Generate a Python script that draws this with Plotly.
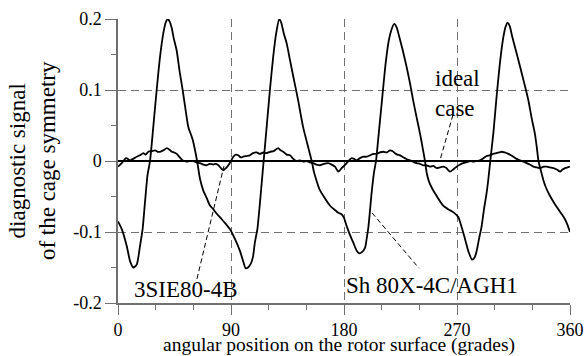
import plotly.graph_objects as go

# Sh 80X-4C/AGH1 motor (large-amplitude diagnostic signal)
sh_x = [0, 3, 7, 9.6, 12.2, 14.9, 17.5, 19.6, 21.5, 23.5, 25.5, 28.1, 30.8, 33.5, 36.1, 38, 39.6, 41, 42.7, 44.5,
        46.7, 49, 51.5, 54, 56, 59.5, 63, 65.3, 68, 70.6, 73, 75.9, 79, 82.6, 86, 89.2, 93.2, 97.2, 100, 101.7,
        103.5, 105.7, 107.5, 109, 111, 113, 114.5, 116, 118.5, 121, 123.5, 126, 128.4, 130, 132, 134.3, 137, 139.6,
        143.4, 147.4, 151.4, 154.3, 156, 158, 160.5, 163.5, 168.9, 172, 175.5, 178, 180, 182, 184.5, 187.4, 190,
        192, 194.5, 196.8, 198, 199.5, 202, 204, 205.5, 208, 210.5, 213, 215.5, 218, 220, 222, 224, 226.5, 229.8,
        232.5, 235, 238, 240.5, 242.5, 244.5, 246, 247.5, 250, 253.7, 259, 263, 267, 271, 273, 275, 277, 279, 282,
        284, 285.6, 287.5, 289.6, 291.5, 293.6, 295, 296.5, 299, 301.5, 304, 306.5, 308.5, 310.2, 312, 314, 317,
        320.2, 323.5, 326.8, 329.5, 332, 333.5, 334.9, 337, 338.8, 341, 344, 347, 350.7, 353.5, 356, 358, 360]
sh_y = [-0.085, -0.096, -0.12, -0.141, -0.150, -0.146, -0.12, -0.096, -0.058, -0.02, 0.0, 0.048, 0.10, 0.147, 0.18,
        0.195, 0.200, 0.197, 0.188, 0.172, 0.156, 0.127, 0.10, 0.07, 0.048, 0.03, 0.0, -0.025, -0.042, -0.052, -0.062,
        -0.068, -0.075, -0.082, -0.089, -0.096, -0.11, -0.127, -0.143, -0.151, -0.150, -0.145, -0.135, -0.115, -0.096,
        -0.06, -0.03, 0.0, 0.05, 0.10, 0.145, 0.18, 0.200, 0.195, 0.18, 0.166, 0.142, 0.119, 0.086, 0.048, 0.02, 0.0,
        -0.015, -0.027, -0.040, -0.049, -0.063, -0.068, -0.073, -0.075, -0.08, -0.091, -0.103, -0.115, -0.126, -0.130,
        -0.128, -0.122, -0.11, -0.092, -0.045, -0.015, 0.0, 0.045, 0.09, 0.135, 0.168, 0.186, 0.193, 0.188, 0.175,
        0.158, 0.133, 0.11, 0.086, 0.06, 0.039, 0.02, 0.0, -0.018, -0.028, -0.038, -0.049, -0.063, -0.068, -0.072,
        -0.079, -0.089, -0.101, -0.114, -0.127, -0.139, -0.136, -0.127, -0.11, -0.092, -0.068, -0.045, -0.025, 0.0,
        0.04, 0.09, 0.135, 0.17, 0.188, 0.195, 0.19, 0.175, 0.155, 0.133, 0.11, 0.086, 0.06, 0.039, 0.02, 0.0,
        -0.015, -0.027, -0.038, -0.049, -0.058, -0.068, -0.075, -0.082, -0.09, -0.10]

# 3SIE80-4B motor (small-amplitude diagnostic signal)
sie_x = [0, 3, 6.4, 9.6, 12, 14.9, 17.5, 20.2, 22, 24.2, 27, 29.5, 31.5, 33.5, 36, 38.9, 41, 42.9, 44.8, 46.8, 48.8,
         50.8, 52.7, 54.7, 57, 60, 62.5, 65.3, 68, 70.6, 73, 75.9, 78, 79.9, 82, 83.9, 86, 87.9, 90, 91.8, 93.8, 95.8,
         97.8, 99.8, 102.5, 105, 107.5, 110.4, 113, 115.7, 118, 121, 124, 127.6, 129.5, 131.6, 134.3, 137, 139.6,
         142.3, 145, 147.5, 150.2, 153, 155.5, 158, 160.9, 164, 167.5, 170, 172.8, 175.5, 178.1, 180, 182.1, 184,
         186.1, 188, 190.1, 192.7, 195.4, 198, 200.7, 203.5, 206, 208.5, 211.3, 214, 216.6, 218.5, 220.6, 222.5,
         224.6, 226.5, 228.5, 230.5, 232.5, 235, 237.8, 240.5, 243.1, 245.8, 248.5, 251, 253.8, 256.5, 259, 261.5,
         264.4, 267, 269.7, 272.5, 275, 277, 279, 281, 283, 285.5, 288.3, 291, 293.6, 296, 298.9, 301.5, 303.5,
         305.6, 308, 310.9, 313, 314.9, 317.5, 320.2, 323, 325.5, 328, 330.8, 333.5, 336.2, 339, 341.5, 344, 346.8,
         349.5, 352.1, 354, 356.1, 358, 360]
sie_y = [-0.008, -0.003, 0.004, 0.001, 0.003, 0.006, 0.008, 0.011, 0.009, 0.013, 0.014, 0.015, 0.013, 0.013, 0.015,
         0.018, 0.016, 0.013, 0.012, 0.01, 0.006, 0.002, 0.0, -0.001, 0.0, 0.0, -0.002, -0.003, -0.005, -0.006,
         -0.004, -0.005, -0.004, -0.006, -0.01, -0.013, -0.01, -0.006, 0.0, 0.006, 0.009, 0.008, 0.005, 0.006, 0.007,
         0.008, 0.011, 0.012, 0.01, 0.012, 0.011, 0.013, 0.014, 0.018, 0.015, 0.013, 0.009, 0.008, 0.003, 0.0, 0.001,
         -0.001, 0.0, -0.002, -0.003, -0.005, -0.006, -0.004, -0.003, -0.005, -0.008, -0.015, -0.01, -0.007, -0.003,
         0.001, 0.004, 0.003, 0.001, 0.004, 0.006, 0.006, 0.008, 0.01, 0.01, 0.012, 0.013, 0.012, 0.015, 0.014, 0.011,
         0.009, 0.008, 0.006, 0.004, 0.002, 0.001, -0.001, -0.003, -0.004, -0.006, -0.006, -0.008, -0.007, -0.01,
         -0.009, -0.008, -0.01, -0.015, -0.012, -0.008, -0.005, -0.003, -0.002, -0.001, 0.0, -0.001, 0.0, 0.001,
         0.004, 0.007, 0.008, 0.01, 0.011, 0.012, 0.013, 0.012, 0.01, 0.008, 0.006, 0.003, 0.001, -0.001, -0.003,
         -0.005, -0.008, -0.009, -0.01, -0.008, -0.008, -0.009, -0.01, -0.012, -0.015, -0.012, -0.01, -0.009, -0.008]

# ideal case: perfectly symmetric cage
ideal_x = [0, 360]
ideal_y = [0, 0]

x_ticks = [0, 90, 180, 270, 360]
x_ticktext = ["0", "90", "180", "270", "360"]
y_ticks = [-0.2, -0.1, 0, 0.1, 0.2]
y_ticktext = ["-0.2", "-0.1", "0", "0.1", "0.2"]

FONT = "Liberation Serif, Times New Roman, serif"
AX = "#707070"
GRID = "#707070"

fig = go.Figure()
fig.add_trace(go.Scatter(x=ideal_x, y=ideal_y, mode="lines", line=dict(color="black", width=2),
                         name="ideal case", hoverinfo="skip"))
fig.add_trace(go.Scatter(x=sie_x, y=sie_y, mode="lines", line=dict(color="black", width=1.8, shape="spline", smoothing=0.6),
                         name="3SIE80-4B"))
fig.add_trace(go.Scatter(x=sh_x, y=sh_y, mode="lines", line=dict(color="black", width=1.8, shape="spline", smoothing=0.6),
                         name="Sh 80X-4C/AGH1"))

# dashed pointer lines for the labels (data coordinates)
pointers = [
    ((266.8, 0.065), (256.5, 0.0014)),
    ((62.9, -0.166), (84.4, -0.007)),
    ((202.3, -0.073), (239.7, -0.151)),
]
for (x0, y0), (x1, y1) in pointers:
    fig.add_shape(type="line", x0=x0, y0=y0, x1=x1, y1=y1, xref="x", yref="y",
                  line=dict(color="black", width=1, dash="5px,3px"))

ANN = dict(family=FONT, size=23, color="black")
fig.add_annotation(x=250.9, y=0.095, xref="x", yref="y", text="ideal<br>case", showarrow=False,
                   xanchor="left", yanchor="middle", align="left", font=ANN)
fig.add_annotation(x=54.2, y=-0.181, xref="x", yref="y", text="3SIE80-4B", showarrow=False,
                   xanchor="center", yanchor="middle", font=ANN)
fig.add_annotation(x=250.1, y=-0.175, xref="x", yref="y", text="Sh 80X-4C/AGH1", showarrow=False,
                   xanchor="center", yanchor="middle", font=ANN)

# axis titles
fig.add_annotation(x=0.489, y=-0.148, xref="paper", yref="paper", text="angular position on the rotor surface (grades)",
                   showarrow=False, xanchor="center", yanchor="middle", font=dict(family=FONT, size=19.5, color="black"))
fig.add_annotation(x=-0.19, y=0.5, xref="paper", yref="paper", text="diagnostic signal<br>of the cage symmetry",
                   showarrow=False, textangle=-90, xanchor="center", yanchor="middle",
                   font=dict(family=FONT, size=23, color="black"))

fig.update_layout(
    width=585, height=356,
    margin=dict(l=118, r=15, t=19, b=53, autoexpand=False),
    paper_bgcolor="white", plot_bgcolor="white",
    showlegend=False,
    font=dict(family=FONT, size=18, color="black"),
)
fig.update_xaxes(range=[0, 360], tickvals=x_ticks, ticktext=x_ticktext, ticks="outside", ticklen=10,
                 tickcolor=AX, tickwidth=1, showline=True, linecolor=AX, linewidth=1.5, automargin=False,
                 showgrid=True, gridcolor=GRID, griddash="8px,5px", gridwidth=1, zeroline=False,
                 minor=dict(tickvals=[30, 60, 120, 150, 210, 240, 300, 330], ticks="outside", ticklen=5,
                            tickcolor=AX, showgrid=False),
                 tickfont=dict(family=FONT, size=18, color="black"))
fig.update_yaxes(range=[-0.2, 0.2], tickvals=y_ticks, ticktext=y_ticktext, ticks="outside", ticklen=11,
                 tickcolor=AX, tickwidth=1, showline=True, linecolor=AX, linewidth=1.5, automargin=False,
                 showgrid=True, gridcolor=GRID, griddash="8px,5px", gridwidth=1, zeroline=False,
                 minor=dict(tickvals=[-0.15, -0.05, 0.05, 0.15], ticks="outside", ticklen=5,
                            tickcolor=AX, showgrid=False),
                 tickfont=dict(family=FONT, size=18, color="black"))

# remove the default page margin so the 585x356 figure fills the window exactly
fig.write_html("out.html", config={"displayModeBar": False},
               post_script="document.body.style.margin='0';document.body.style.overflow='hidden';")
